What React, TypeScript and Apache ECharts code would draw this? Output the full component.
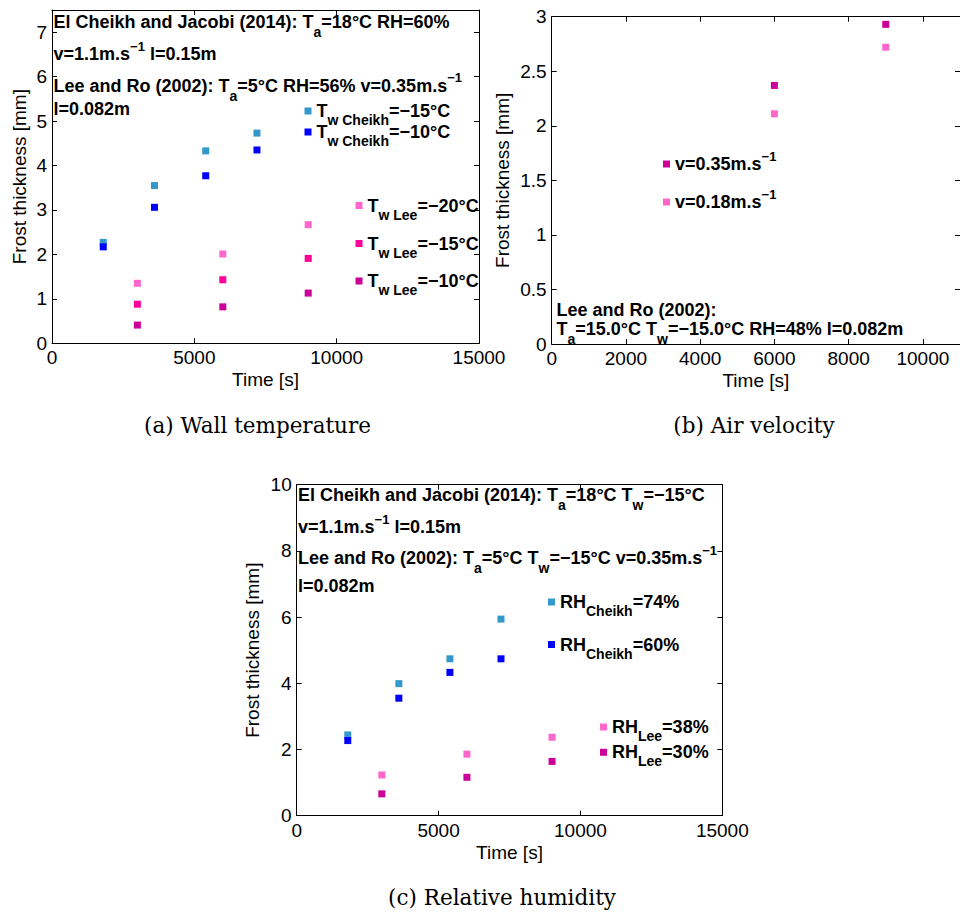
import React, { useEffect, useRef } from "react";
import * as echarts from "echarts";

const SANS = "'Liberation Sans', Arial, Helvetica, sans-serif";
const SERIF = "'DejaVu Serif', 'Liberation Serif', serif";

// ---------- data ----------
const cheikhTimes = [1800, 3600, 5400, 7200];
const leeTimes = [3000, 6000, 9000];
const velTimes = [6000, 9000];

// (a) wall temperature
const wallCheikhM15 = [2.27, 3.55, 4.33, 4.73];
const wallCheikhM10 = [2.17, 3.06, 3.77, 4.35];
const wallLeeM20 = [1.35, 2.01, 2.67];
const wallLeeM15 = [0.88, 1.43, 1.91];
const wallLeeM10 = [0.41, 0.82, 1.13];

// (b) air velocity
const velLee035 = [2.37, 2.93];
const velLee018 = [2.11, 2.72];

// (c) relative humidity
const rhCheikh74 = [2.44, 3.99, 4.74, 5.94];
const rhCheikh60 = [2.27, 3.55, 4.33, 4.74];
const rhLee38 = [1.23, 1.86, 2.37];
const rhLee30 = [0.66, 1.16, 1.64];

// axis tick settings per panel
const xTicksA = { min: 0, max: 15000, interval: 5000 };
const yTicksA = { min: 0, max: 7.5, interval: 1 };
const xTicksB = { min: 0, max: 11000, interval: 2000 };
const yTicksB = { min: 0, max: 3, interval: 0.5 };
const xTicksC = { min: 0, max: 15000, interval: 5000 };
const yTicksC = { min: 0, max: 10, interval: 2 };

// annotation texts (rich-text markup: m main, s subscript, p superscript)
const notesA = [
  "{m|El Cheikh and Jacobi (2014): T}{s|a}{m|=18°C RH=60%}",
  "{m|v=1.1m.s}{p|−1}{m| l=0.15m}",
  "{m|Lee and Ro (2002): T}{s|a}{m|=5°C RH=56% v=0.35m.s}{p|−1}",
  "{m|l=0.082m}",
];
const notesB = [
  "{m|Lee and Ro (2002):}",
  "{m|T}{s|a}{m|=15.0°C T}{s|w}{m|=−15.0°C RH=48% l=0.082m}",
];
const notesC = [
  "{m|El Cheikh and Jacobi (2014): T}{s|a}{m|=18°C T}{s|w}{m|=−15°C}",
  "{m|v=1.1m.s}{p|−1}{m| l=0.15m}",
  "{m|Lee and Ro (2002): T}{s|a}{m|=5°C T}{s|w}{m|=−15°C v=0.35m.s}{p|−1}",
  "{m|l=0.082m}",
];
const captions = ["(a) Wall temperature", "(b) Air velocity", "(c) Relative humidity"];

const C_LBLUE = "#3399cc";
const C_BLUE = "#0000ff";
const C_LPINK = "#ff66cc";
const C_PINK = "#ff0099";
const C_MAG = "#cc0099";

const pts = (xs: number[], ys: number[]) => xs.map((x, i) => [x, ys[i]]);

type SeriesDef = {
  name: string;
  label: string;
  grid: number;
  xs: number[];
  ys: number[];
  color: string;
  lgLeft: number;
  lgTop: number;
};

const seriesDefs: SeriesDef[] = [
  { name: "Tw Cheikh=-15", label: "{m|T}{s|w Cheikh}{m|=−15°C}", grid: 0, xs: cheikhTimes, ys: wallCheikhM15, color: C_LBLUE, lgLeft: 304.5, lgTop: 102 },
  { name: "Tw Cheikh=-10", label: "{m|T}{s|w Cheikh}{m|=−10°C}", grid: 0, xs: cheikhTimes, ys: wallCheikhM10, color: C_BLUE, lgLeft: 304.5, lgTop: 123 },
  { name: "Tw Lee=-20", label: "{m|T}{s|w Lee}{m|=−20°C}", grid: 0, xs: leeTimes, ys: wallLeeM20, color: C_LPINK, lgLeft: 355.5, lgTop: 196.5 },
  { name: "Tw Lee=-15", label: "{m|T}{s|w Lee}{m|=−15°C}", grid: 0, xs: leeTimes, ys: wallLeeM15, color: C_PINK, lgLeft: 355.5, lgTop: 234.5 },
  { name: "Tw Lee=-10", label: "{m|T}{s|w Lee}{m|=−10°C}", grid: 0, xs: leeTimes, ys: wallLeeM10, color: C_MAG, lgLeft: 355.5, lgTop: 272 },
  { name: "v=0.35", label: "{m|v=0.35m.s}{p|−1}", grid: 1, xs: velTimes, ys: velLee035, color: C_MAG, lgLeft: 663, lgTop: 149.5 },
  { name: "v=0.18", label: "{m|v=0.18m.s}{p|−1}", grid: 1, xs: velTimes, ys: velLee018, color: C_LPINK, lgLeft: 663, lgTop: 187.5 },
  { name: "RH Cheikh=74", label: "{m|RH}{s|Cheikh}{m|=74%}", grid: 2, xs: cheikhTimes, ys: rhCheikh74, color: C_LBLUE, lgLeft: 548, lgTop: 593 },
  { name: "RH Cheikh=60", label: "{m|RH}{s|Cheikh}{m|=60%}", grid: 2, xs: cheikhTimes, ys: rhCheikh60, color: C_BLUE, lgLeft: 548, lgTop: 635.5 },
  { name: "RH Lee=38", label: "{m|RH}{s|Lee}{m|=38%}", grid: 2, xs: leeTimes, ys: rhLee38, color: C_LPINK, lgLeft: 600, lgTop: 718 },
  { name: "RH Lee=30", label: "{m|RH}{s|Lee}{m|=30%}", grid: 2, xs: leeTimes, ys: rhLee30, color: C_MAG, lgLeft: 600, lgTop: 743.3 },
];

const LH = 22;
const richLegend: any = {
  m: { fontSize: 18, fontWeight: "bold", fontFamily: SANS, color: "#000", lineHeight: LH },
  s: { fontSize: 14, fontWeight: "bold", fontFamily: SANS, color: "#000", lineHeight: LH, padding: [9, 0, -9, 0] },
  p: { fontSize: 13, fontWeight: "bold", fontFamily: SANS, color: "#000", lineHeight: LH, padding: [-8, 0, 8, 0] },
};
const richGraphic: any = {
  m: { fontSize: 18, fontWeight: "bold", fontFamily: SANS, fill: "#000", lineHeight: LH },
  s: { fontSize: 14, fontWeight: "bold", fontFamily: SANS, fill: "#000", lineHeight: LH, padding: [10, 0, -10, 0] },
  p: { fontSize: 13, fontWeight: "bold", fontFamily: SANS, fill: "#000", lineHeight: LH, padding: [-8, 0, 8, 0] },
};

const grids = [
  { left: 52, top: 10, width: 427, height: 333.3 },
  { left: 551.7, top: 16.7, width: 419.7, height: 327.3 },
  { left: 296.7, top: 484.7, width: 425.6, height: 331 },
];

const tickFont = { fontSize: 19, fontFamily: SANS, color: "#000" };

function axisPair(kind: "x" | "y", g: number, ticks: any, nameGap: number, hideMax: boolean) {
  const common = {
    type: "value",
    gridIndex: g,
    min: ticks.min,
    max: ticks.max,
    interval: ticks.interval,
    splitLine: { show: false },
    axisLine: { show: true, onZero: false, lineStyle: { color: "#000", width: 1 } },
    axisTick: { show: true, inside: true, length: 5, lineStyle: { color: "#000", width: 1 } },
  };
  const main = {
    ...common,
    position: kind === "x" ? "bottom" : "left",
    name: kind === "x" ? "Time [s]" : "Frost thickness [mm]",
    nameLocation: "middle",
    nameGap,
    nameMoveOverlap: false,
    nameTextStyle: { fontSize: 19, fontFamily: SANS, color: "#000" },
    axisLabel: {
      ...tickFont,
      margin: 5,
      showMaxLabel: hideMax ? false : true,
      showMinLabel: true,
      formatter: (v: number) => String(v),
    },
  };
  const mirror = {
    ...common,
    position: kind === "x" ? "top" : "right",
    axisLabel: { show: false },
  };
  return [main, mirror];
}

export default function App() {
  const ref = useRef<HTMLDivElement>(null);
  useEffect(() => {
    document.body.style.margin = "0";
    if (!ref.current) return;
    const chart = echarts.init(ref.current, null, { renderer: "svg" });

    const xAxis = [
      ...axisPair("x", 0, xTicksA, 27, false),
      ...axisPair("x", 1, xTicksB, 27, true),
      ...axisPair("x", 2, xTicksC, 27, false),
    ];
    const yAxis = [
      ...axisPair("y", 0, yTicksA, 23, true),
      ...axisPair("y", 1, yTicksB, 40, false),
      ...axisPair("y", 2, yTicksC, 35, false),
    ];

    const labelMap: Record<string, string> = {};
    seriesDefs.forEach((s) => (labelMap[s.name] = s.label));

    const series = seriesDefs.map((s) => ({
      type: "scatter",
      name: s.name,
      xAxisIndex: s.grid * 2,
      yAxisIndex: s.grid * 2,
      symbol: "rect",
      symbolSize: 7,
      itemStyle: { color: s.color, opacity: 1 },
      data: pts(s.xs, s.ys),
      z: 3,
    }));

    const legend = seriesDefs.map((s) => ({
      data: [s.name],
      left: s.lgLeft,
      top: s.lgTop,
      padding: 0,
      icon: "rect",
      itemWidth: 7,
      itemHeight: 7,
      selectedMode: false,
      formatter: (n: string) => labelMap[n],
      textStyle: { fontSize: 18, fontWeight: "bold", fontFamily: SANS, color: "#000", rich: richLegend },
    }));

    const textEl = (text: string, x: number, y: number) => ({
      type: "text",
      x,
      y,
      z: 10,
      style: { text, rich: richGraphic, align: "left", verticalAlign: "middle", fill: "#000" },
    });
    const noteY_A = [22.3, 54, 85.7, 109];
    const noteY_B = [310, 329];
    const noteY_C = [495, 527, 558, 586];
    const graphic: any[] = [
      ...notesA.map((t, i) => textEl(t, 53.5, noteY_A[i])),
      ...notesB.map((t, i) => textEl(t, 556.5, noteY_B[i])),
      ...notesC.map((t, i) => textEl(t, 298, noteY_C[i])),
    ];
    const capPos = [
      [257.5, 425],
      [754, 425],
      [502, 897],
    ];
    captions.forEach((c, i) =>
      graphic.push({
        type: "text",
        x: capPos[i][0],
        y: capPos[i][1],
        style: { text: c, fontSize: 21.5, fontFamily: SERIF, fill: "#000", align: "center", verticalAlign: "middle" },
      })
    );

    chart.setOption({
      animation: false,
      backgroundColor: "#fff",
      grid: grids.map((g) => ({ ...g, containLabel: false })),
      xAxis,
      yAxis,
      legend,
      series,
      graphic,
    } as any);
    return () => chart.dispose();
  }, []);
  return <div ref={ref} style={{ width: 960, height: 913, overflow: "hidden" }} />;
}
